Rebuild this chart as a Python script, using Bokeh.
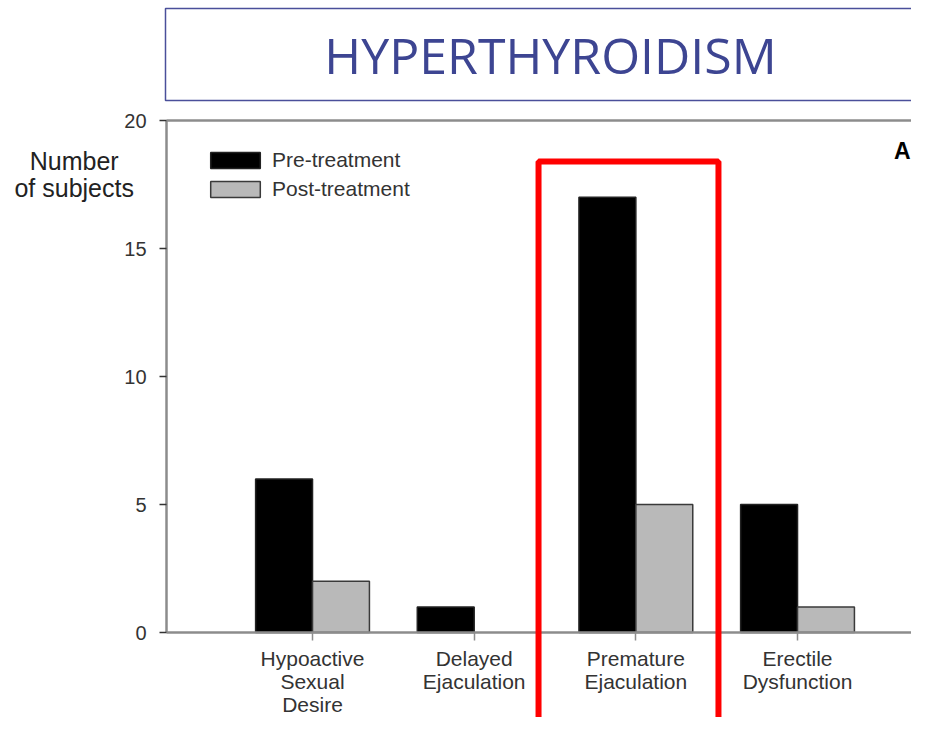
from bokeh.plotting import figure
from bokeh.models import (Range1d, FixedTicker, Label, BoxAnnotation,
                          Legend, LegendItem, ColumnDataSource, LinearAxis)
from bokeh.transform import dodge
from bokeh.embed import file_html
from bokeh.resources import INLINE

# ---- data ----
categories = ["Hypoactive\nSexual\nDesire", "Delayed\nEjaculation",
              "Premature\nEjaculation", "Erectile\nDysfunction"]
positions = [1, 2, 3, 4]
pre_treatment = [6, 1, 17, 5]
post_treatment = [2, 0, 5, 1]
y_ticks = [0, 5, 10, 15, 20]
y_min, y_max = 0, 20
title_text = "HYPERTHYROIDISM"
y_label = "Number\nof subjects"
panel_letter = "A"

BAR_W = 0.352
FONT = "Liberation Sans"
W, H = 911, 717

# frame covers the whole canvas; axes are placed at fixed locations
X0, X1 = -0.930, 4.705      # data x at canvas left / right
Y0, Y1 = -3.320, 24.6875    # data y at canvas bottom / top
AXIS_X = 0.097              # where the y axis stands

src_pre = ColumnDataSource(dict(x=positions, top=pre_treatment))
post_x = [x for x, v in zip(positions, post_treatment) if v > 0]
post_v = [v for v in post_treatment if v > 0]
src_post = ColumnDataSource(dict(x=post_x, top=post_v))

p = figure(width=W, height=H, output_backend="svg", toolbar_location=None,
           x_range=Range1d(X0, X1), y_range=Range1d(Y0, Y1),
           x_axis_location=None, y_axis_location=None)
p.min_border = 0
p.min_border_left = 0
p.min_border_right = 0
p.min_border_top = 0
p.min_border_bottom = 0
p.outline_line_color = None
p.title.visible = False
p.xgrid.visible = False
p.ygrid.visible = False
p.background_fill_color = "#ffffff"
p.border_fill_color = "#ffffff"

r_pre = p.vbar(x=dodge("x", -BAR_W / 2, range=p.x_range), top="top", bottom=0,
               width=BAR_W, source=src_pre, fill_color="#000000",
               line_color="#222222", line_width=1.5)
r_post = p.vbar(x=dodge("x", BAR_W / 2, range=p.x_range), top="top", bottom=0,
                width=BAR_W, source=src_post, fill_color="#b9b9b9",
                line_color="#3a3a3a", line_width=1.5)

# ---- axes ----
xa = LinearAxis(fixed_location=y_min, bounds=(AXIS_X, X1))
xa.ticker = FixedTicker(ticks=positions)
xa.major_label_overrides = {pos: c for pos, c in zip(positions, categories)}
xa.major_tick_out = 8
xa.major_tick_in = 0
xa.minor_tick_out = 0
xa.minor_tick_in = 0
xa.axis_line_color = "#8c8c8c"
xa.axis_line_width = 2.5
xa.major_tick_line_color = "#8c8c8c"
xa.major_tick_line_width = 1.5
xa.major_label_text_font = FONT
xa.major_label_text_font_size = "21px"
xa.major_label_text_color = "#333333"
xa.major_label_text_line_height = 1.0
xa.major_label_standoff = 6
p.add_layout(xa, "below")

ya = LinearAxis(fixed_location=AXIS_X, bounds=(y_min, y_max))
ya.ticker = FixedTicker(ticks=y_ticks)
ya.major_tick_out = 7
ya.major_tick_in = 0
ya.minor_tick_out = 0
ya.minor_tick_in = 0
ya.axis_line_color = "#8c8c8c"
ya.axis_line_width = 2.5
ya.major_tick_line_color = "#333333"
ya.major_tick_line_width = 1.5
ya.major_label_text_font = FONT
ya.major_label_text_font_size = "20px"
ya.major_label_text_color = "#333333"
ya.major_label_standoff = 13
p.add_layout(ya, "left")

top_axis = LinearAxis(fixed_location=y_max, bounds=(AXIS_X, X1))
top_axis.ticker = FixedTicker(ticks=[])
top_axis.major_tick_out = 0
top_axis.major_tick_in = 0
top_axis.minor_tick_out = 0
top_axis.minor_tick_in = 0
top_axis.axis_line_color = "#8c8c8c"
top_axis.axis_line_width = 2.5
p.add_layout(top_axis, "above")

# ---- legend ----
legend = Legend(items=[LegendItem(label="Pre-treatment", renderers=[r_pre]),
                       LegendItem(label="Post-treatment", renderers=[r_post])],
                location=(204, 516), border_line_color=None,
                background_fill_alpha=0, padding=0, margin=0,
                glyph_width=62, glyph_height=20, label_height=16,
                label_standoff=6, spacing=5,
                label_text_font=FONT, label_text_font_size="21px",
                label_text_color="#333333")
p.add_layout(legend)

# ---- y axis label (horizontal, top-left) ----
p.add_layout(Label(x=-0.474, y=18.95, text=y_label, text_align="center",
                   text_baseline="top", text_font=FONT, text_font_size="25px",
                   text_color="#222222", text_line_height=0.96))

# ---- panel letter ----
p.add_layout(Label(x=X1 - 0.005, y=19.3, text=panel_letter, text_align="right",
                   text_baseline="top", text_font=FONT, text_font_size="23px",
                   text_font_style="bold", text_color="#000000"))

# ---- title box and title ----
p.add_layout(BoxAnnotation(left=0.0906, right=X1 + 5, bottom=20.78, top=24.375,
                           fill_alpha=0, line_color="#4a4f9a", line_alpha=1.0,
                           line_width=1.5, level="overlay"))
p.add_layout(Label(x=2.472, y=22.55, text=title_text, text_align="center",
                   text_baseline="middle", text_font="Open Sans",
                   text_font_size="50px", text_color="#3d4592"))

# ---- red highlight box around Premature Ejaculation ----
p.add_layout(BoxAnnotation(left=2.398, right=3.511, bottom=Y0 - 10, top=18.40,
                           fill_alpha=0, line_color="#ff0000", line_alpha=1.0,
                           line_width=6, level="overlay"))

open("out.html", "w").write(file_html(p, INLINE))
